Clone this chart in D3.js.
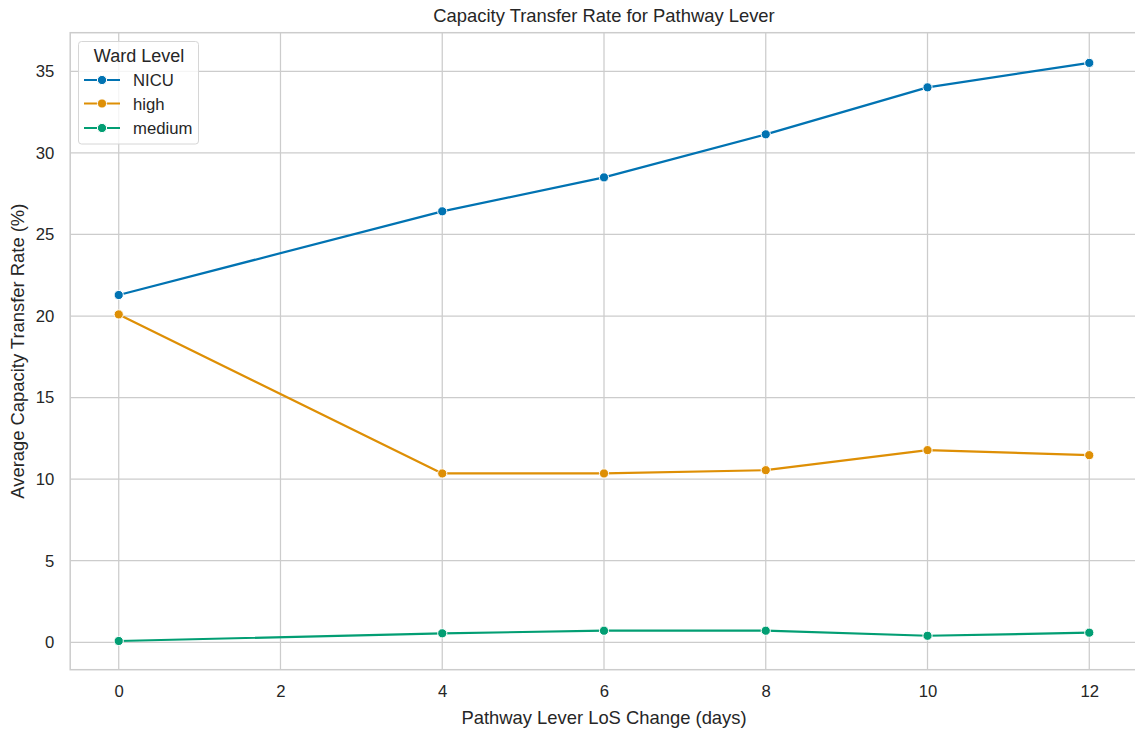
<!DOCTYPE html>
<html>
<head>
<meta charset="utf-8">
<script src="https://cdn.jsdelivr.net/npm/d3@7"></script>
<style>
  html, body { margin: 0; padding: 0; background: #fff; }
  svg { display: block; font-family: "Liberation Sans", Arial, sans-serif; }
</style>
</head>
<body>
<svg id="chart" width="1135" height="731"></svg>
<script>
// LoS change (days) on the x axis
const losChange = [0, 4, 6, 8, 10, 12];

// Average capacity transfer rate (%) per ward level
const nicuRate = [21.29, 26.42, 28.50, 31.14, 34.02, 35.52];
const highRate = [20.10, 10.35, 10.35, 10.55, 11.78, 11.47];
const mediumRate = [0.08, 0.55, 0.71, 0.71, 0.40, 0.59];

const seriesNames = ["NICU", "high", "medium"];
const seriesColors = ["#0173b2", "#de8f05", "#029e73"];

const xTicks = [0, 2, 4, 6, 8, 10, 12];
const yTicks = [0, 5, 10, 15, 20, 25, 30, 35];

(function () {
  const series = [
    { name: seriesNames[0], color: seriesColors[0], values: nicuRate },
    { name: seriesNames[1], color: seriesColors[1], values: highRate },
    { name: seriesNames[2], color: seriesColors[2], values: mediumRate }
  ];

  const svg = d3.select("#chart");
  const textColor = "#262626";
  const gridColor = "#cccccc";
  const tickSize = "16.7px";
  const labelSize = "18.4px";

  const pLeft = 70.2, pRight = 1137.8, pTop = 32.7, pBottom = 669.7;

  const x = d3.scaleLinear().domain([-0.6, 12.6]).range([pLeft, pRight]);
  const y = d3.scaleLinear().domain([-1.68, 37.37]).range([pBottom, pTop]);

  // grid
  const grid = svg.append("g");
  grid.selectAll("line.vg").data(xTicks).join("line")
    .attr("class", "vg")
    .attr("x1", d => x(d)).attr("x2", d => x(d))
    .attr("y1", pTop).attr("y2", pBottom)
    .attr("stroke", gridColor).attr("stroke-width", 1.25);
  grid.selectAll("line.hg").data(yTicks).join("line")
    .attr("class", "hg")
    .attr("x1", pLeft).attr("x2", pRight)
    .attr("y1", d => y(d)).attr("y2", d => y(d))
    .attr("stroke", gridColor).attr("stroke-width", 1.25);

  // frame
  svg.append("rect")
    .attr("x", pLeft).attr("y", pTop)
    .attr("width", pRight - pLeft).attr("height", pBottom - pTop)
    .attr("fill", "none").attr("stroke", gridColor).attr("stroke-width", 1.5);

  // axes
  const xAxis = svg.append("g")
    .attr("transform", `translate(0,${pBottom})`)
    .call(d3.axisBottom(x).tickValues(xTicks).tickSize(0).tickPadding(15).tickFormat(d3.format("d")));
  const yAxis = svg.append("g")
    .attr("transform", `translate(${pLeft},0)`)
    .call(d3.axisLeft(y).tickValues(yTicks).tickSize(0).tickPadding(16).tickFormat(d3.format("d")));
  [xAxis, yAxis].forEach(a => {
    a.select(".domain").remove();
    a.selectAll("text").attr("fill", textColor).style("font-size", tickSize)
      .style("font-family", "'Liberation Sans', Arial, sans-serif");
  });

  // axis titles and chart title
  svg.append("text")
    .attr("x", 604).attr("y", 724)
    .attr("text-anchor", "middle").attr("fill", textColor)
    .style("font-size", labelSize)
    .text("Pathway Lever LoS Change (days)");

  svg.append("text")
    .attr("transform", `translate(23.5,${(pTop + pBottom) / 2}) rotate(-90)`)
    .attr("text-anchor", "middle").attr("fill", textColor)
    .style("font-size", labelSize)
    .text("Average Capacity Transfer Rate (%)");

  svg.append("text")
    .attr("x", 604).attr("y", 21.5)
    .attr("text-anchor", "middle").attr("fill", textColor)
    .style("font-size", labelSize)
    .text("Capacity Transfer Rate for Pathway Lever");

  // lines and markers
  const line = d3.line().x((d, i) => x(losChange[i])).y(d => y(d));
  const lines = svg.append("g");
  series.forEach(s => {
    lines.append("path")
      .datum(s.values)
      .attr("fill", "none").attr("stroke", s.color)
      .attr("stroke-width", 2.2).attr("stroke-linejoin", "round").attr("stroke-linecap", "round")
      .attr("d", line);
    lines.append("g").selectAll("circle").data(s.values).join("circle")
      .attr("cx", (d, i) => x(losChange[i])).attr("cy", d => y(d))
      .attr("r", 4.6).attr("fill", s.color)
      .attr("stroke", "#fff").attr("stroke-width", 1);
  });

  // legend
  const lg = svg.append("g");
  lg.append("rect")
    .attr("x", 78.5).attr("y", 41.5).attr("width", 120).attr("height", 102.5)
    .attr("rx", 3).attr("fill", "#fff").attr("fill-opacity", 0.8)
    .attr("stroke", "#d6d6d6").attr("stroke-width", 1);
  lg.append("text")
    .attr("x", 139).attr("y", 61.5)
    .attr("text-anchor", "middle").attr("fill", textColor)
    .style("font-size", "18px")
    .text("Ward Level");
  const legendY = [80, 103.5, 128];
  series.forEach((s, i) => {
    lg.append("line")
      .attr("x1", 84).attr("x2", 120)
      .attr("y1", legendY[i]).attr("y2", legendY[i])
      .attr("stroke", s.color).attr("stroke-width", 2.2);
    lg.append("circle")
      .attr("cx", 102).attr("cy", legendY[i]).attr("r", 4.6)
      .attr("fill", s.color).attr("stroke", "#fff").attr("stroke-width", 1);
    lg.append("text")
      .attr("x", 133).attr("y", legendY[i] + 6)
      .attr("fill", textColor)
      .style("font-size", tickSize)
      .text(s.name);
  });
})();
</script>
</body>
</html>
